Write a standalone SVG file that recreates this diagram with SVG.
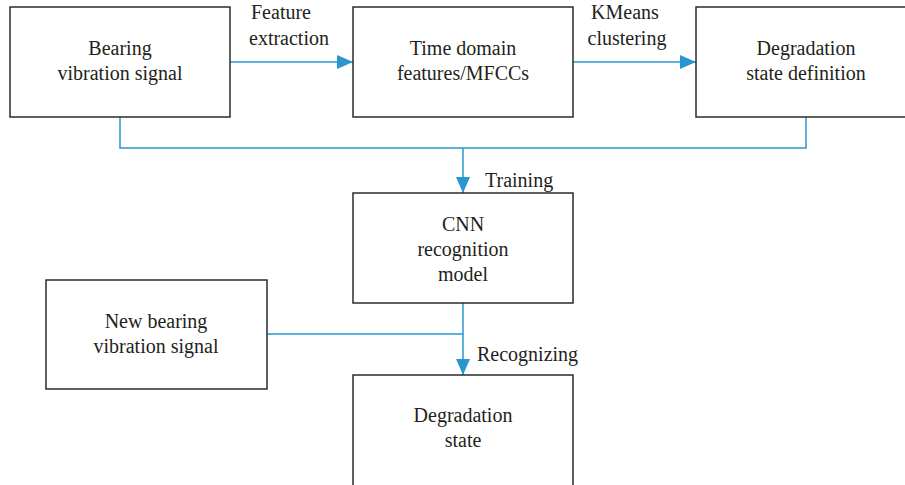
<svg xmlns="http://www.w3.org/2000/svg" width="905" height="485" viewBox="0 0 905 485">
<defs>
<style>
.box{fill:#fff;stroke:#2b2b2b;stroke-width:1.5}
.t{font-family:"Liberation Serif","Times New Roman",serif;font-size:20px;fill:#231f20;text-anchor:middle}
.lbl{font-family:"Liberation Serif","Times New Roman",serif;font-size:20px;fill:#231f20}
.c{fill:none;stroke:#2a96d0;stroke-width:1.5}
</style>
<marker id="ah" markerWidth="16" markerHeight="14" refX="16" refY="7" orient="auto" markerUnits="userSpaceOnUse">
<path d="M0,0 L16,7 L0,14 Z" fill="#2a96d0"/>
</marker>
</defs>
<rect width="905" height="485" fill="#fff"/>
<g id="connectors">
<path class="c" d="M230,62 H353" marker-end="url(#ah)"/>
<path class="c" d="M573,62 H696" marker-end="url(#ah)"/>
<path class="c" d="M120,117 V148 H806 V117"/>
<path class="c" d="M463,148 V193" marker-end="url(#ah)"/>
<path class="c" d="M463,303 V375" marker-end="url(#ah)"/>
<path class="c" d="M267,334 H463"/>
<text class="lbl" x="281" y="19" text-anchor="middle">Feature</text>
<text class="lbl" x="289" y="45" text-anchor="middle">extraction</text>
<text class="lbl" x="625" y="19" text-anchor="middle">KMeans</text>
<text class="lbl" x="627" y="45" text-anchor="middle">clustering</text>
<text class="lbl" x="485" y="187">Training</text>
<text class="lbl" x="477" y="361">Recognizing</text>
</g>
<g id="n1"><rect class="box" x="10" y="7" width="220" height="110"/><text class="t" x="120" y="55">Bearing</text><text class="t" x="120" y="80">vibration signal</text></g>
<g id="n2"><rect class="box" x="353" y="7" width="220" height="110"/><text class="t" x="463" y="55">Time domain</text><text class="t" x="463" y="80">features/MFCCs</text></g>
<g id="n3"><rect class="box" x="696" y="7" width="220" height="110"/><text class="t" x="806" y="55">Degradation</text><text class="t" x="806" y="80">state definition</text></g>
<g id="n4"><rect class="box" x="353" y="193" width="220" height="110"/><text class="t" x="463" y="231">CNN</text><text class="t" x="463" y="256">recognition</text><text class="t" x="463" y="281">model</text></g>
<g id="n5"><rect class="box" x="46" y="280" width="221" height="109"/><text class="t" x="156" y="328">New bearing</text><text class="t" x="156" y="353">vibration signal</text></g>
<g id="n6"><rect class="box" x="353" y="375" width="220" height="120"/><text class="t" x="463" y="422">Degradation</text><text class="t" x="463" y="447">state</text></g>
</svg>
